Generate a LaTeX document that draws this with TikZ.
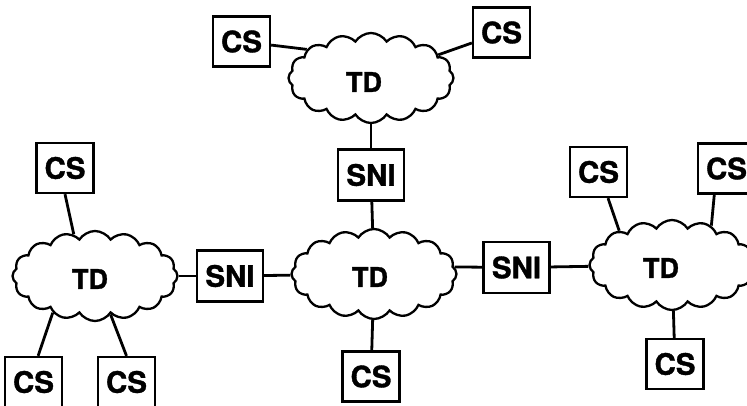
\documentclass[tikz,border=0pt]{standalone}
\usepackage{fontspec}
\setmainfont{TeX Gyre Heros}[BoldFeatures={FakeBold=1.2}]
\usetikzlibrary{shapes.symbols}
\begin{document}
\begin{tikzpicture}[x=1pt,y=-1pt,
  box/.style={draw,line width=2.3pt,rectangle,inner sep=0pt,minimum width=57pt,minimum height=50pt,font=\fontsize{29.5}{29.5}\selectfont\bfseries},
  snibox/.style={box,minimum width=66pt,minimum height=51pt},
  td/.style={draw,line width=2.3pt,cloud,cloud puffs=16,cloud puff arc=115,cloud ignores aspect,minimum width=165pt,minimum height=90pt,inner sep=0pt},
  tdtext/.style={font=\fontsize{27}{27}\selectfont\bfseries,inner sep=0pt},
  link/.style={line width=2.8pt}]
\clip (0,0) rectangle (747,406);
% clouds
\node[td] (ctop) at (371,78) {};
\node[tdtext] (ttop) at (364,82) {TD};
\node[td] (cl) at (95,276) {};
\node[tdtext] (tl) at (90,279) {TD};
\node[td] (cc) at (374,274) {};
\node[tdtext] (tc) at (370,277) {TD};
\node[td] (cr) at (672,265) {};
\node[tdtext] (tr) at (661,268) {TD};
% SNI boxes
\node[snibox] (s1) at (230,276) {SNI};
\node[snibox] (s2) at (371,175) {SNI};
\node[snibox] (s3) at (516.5,267.5) {SNI};
% CS boxes
\node[box] (cs1) at (241.5,41.5) {CS};
\node[box] (cs2) at (501.5,32.5) {CS};
\node[box] (cs3) at (65,168) {CS};
\node[box] (cs4) at (33.5,382) {CS};
\node[box] (cs5) at (126.5,382) {CS};
\node[box] (cs6) at (371,376.5) {CS};
\node[box] (cs7) at (598.5,172) {CS};
\node[box] (cs8) at (726.5,168.5) {CS};
\node[box] (cs9) at (675,364) {CS};
% links
\draw[link] (cs1) -- (ctop.156);
\draw[link] (cs2) -- (ctop.19);
\draw[link] (ctop) -- (s2);
\draw[link] (s2) -- (cc);
\draw[link] (cl) -- (s1);
\draw[link] (s1) -- (cc);
\draw[link] (cc.5) -- (s3);
\draw[link] (s3) -- (cr);
\draw[link] (cs3.south) -- (cl.117);
\draw[link] (cs4.80) -- (cl.221);
\draw[link] (cs5.north) -- (cl.-68);
\draw[link] (cc) -- (cs6);
\draw[link] (cs7.-70) -- (cr.147);
\draw[link] (cs8.-115) -- (cr.45);
\draw[link] (cr) -- (cs9);
\end{tikzpicture}
\end{document}
